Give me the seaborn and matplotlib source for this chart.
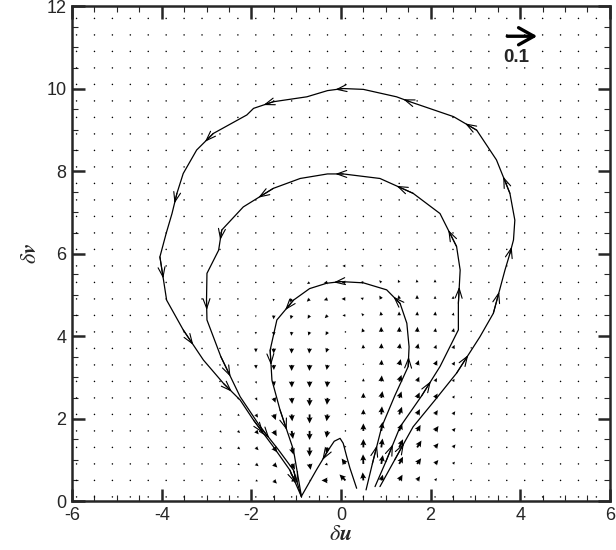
import numpy as np
import pandas as pd
import matplotlib
matplotlib.use("Agg")
import matplotlib.pyplot as plt
import seaborn as sns

# sampling grid of the vector field
grid_x = np.round(np.arange(-5.9, 5.8, 0.4), 1)
grid_y = np.round(np.arange(0.1, 11.8, 0.4), 1)

# region where the arrows are visible (outside it the vectors are ~0)
field_cols = [-2.7, -2.3, -1.9, -1.5, -1.1, -0.7, -0.3, 0.1, 0.5, 0.9, 1.3, 1.7, 2.1, 2.5, 2.9]
field_rows = [0.1, 0.5, 0.9, 1.3, 1.7, 2.1, 2.5, 2.9, 3.3, 3.7, 4.1, 4.5, 4.9, 5.3, 5.7]

# speed of each arrow, one row per field_rows entry
speed = [
    [0.003, 0.003, 0.003, 0.003, 0.003, 0.003, 0.003, 0.005, 0.005, 0.003, 0.003, 0.003, 0.003, 0.003, 0.003],
    [0.005, 0.007, 0.008, 0.015, 0.010, 0.006, 0.020, 0.028, 0.027, 0.020, 0.022, 0.017, 0.010, 0.007, 0.005],
    [0.007, 0.008, 0.012, 0.017, 0.022, 0.020, 0.010, 0.022, 0.032, 0.030, 0.027, 0.023, 0.017, 0.010, 0.006],
    [0.008, 0.010, 0.013, 0.020, 0.025, 0.030, 0.020, 0.008, 0.028, 0.030, 0.030, 0.027, 0.018, 0.013, 0.007],
    [0.008, 0.010, 0.015, 0.020, 0.027, 0.030, 0.023, 0.005, 0.025, 0.030, 0.027, 0.023, 0.020, 0.013, 0.008],
    [0.007, 0.008, 0.013, 0.020, 0.023, 0.030, 0.023, 0.005, 0.017, 0.027, 0.027, 0.020, 0.017, 0.013, 0.008],
    [0.005, 0.007, 0.010, 0.017, 0.020, 0.027, 0.023, 0.004, 0.017, 0.023, 0.023, 0.020, 0.017, 0.010, 0.007],
    [0.005, 0.006, 0.008, 0.015, 0.020, 0.020, 0.020, 0.004, 0.010, 0.020, 0.023, 0.017, 0.013, 0.010, 0.006],
    [0.004, 0.005, 0.013, 0.017, 0.020, 0.020, 0.017, 0.004, 0.006, 0.017, 0.020, 0.017, 0.017, 0.013, 0.006],
    [0.003, 0.005, 0.013, 0.017, 0.017, 0.017, 0.015, 0.005, 0.013, 0.017, 0.017, 0.017, 0.013, 0.013, 0.006],
    [0.003, 0.004, 0.008, 0.013, 0.013, 0.013, 0.013, 0.005, 0.013, 0.017, 0.017, 0.017, 0.013, 0.013, 0.006],
    [0.003, 0.004, 0.006, 0.013, 0.013, 0.013, 0.013, 0.010, 0.010, 0.013, 0.013, 0.013, 0.013, 0.010, 0.005],
    [0.002, 0.003, 0.005, 0.008, 0.013, 0.013, 0.013, 0.013, 0.010, 0.013, 0.013, 0.013, 0.010, 0.010, 0.005],
    [0.002, 0.003, 0.004, 0.005, 0.007, 0.010, 0.013, 0.013, 0.010, 0.010, 0.010, 0.010, 0.010, 0.006, 0.004],
    [0.002, 0.002, 0.002, 0.002, 0.004, 0.006, 0.008, 0.010, 0.008, 0.007, 0.006, 0.005, 0.004, 0.003, 0.002],
]

# direction of each arrow in degrees (0 = right, 90 = up)
direction = [
    [0, 0, 0, 0, 0, 0, 0, 150, 90, 45, 45, 45, 45, 45, 45],
    [0, 0, 340, 315, 345, 350, 180, 135, 95, 75, 60, 55, 50, 45, 45],
    [330, 330, 320, 315, 300, 280, 200, 125, 92, 80, 62, 55, 50, 50, 45],
    [320, 320, 315, 305, 285, 270, 255, 120, 90, 82, 65, 58, 52, 50, 45],
    [315, 315, 310, 300, 280, 270, 260, 180, 90, 82, 68, 60, 55, 50, 50],
    [315, 315, 305, 290, 275, 270, 262, 200, 90, 85, 70, 62, 58, 55, 50],
    [310, 305, 300, 290, 275, 270, 265, 200, 90, 80, 70, 65, 60, 55, 55],
    [300, 300, 290, 280, 272, 270, 265, 220, 90, 85, 70, 65, 60, 60, 55],
    [290, 280, 275, 272, 270, 268, 260, 230, 95, 85, 75, 70, 65, 60, 60],
    [280, 275, 272, 270, 268, 265, 250, 220, 95, 88, 80, 75, 70, 65, 60],
    [275, 275, 272, 270, 265, 250, 240, 200, 110, 92, 88, 85, 80, 75, 70],
    [275, 275, 270, 268, 255, 240, 225, 180, 130, 100, 92, 88, 85, 75, 75],
    [270, 270, 265, 262, 240, 225, 200, 180, 160, 120, 100, 92, 90, 85, 80],
    [260, 260, 250, 245, 225, 210, 190, 180, 175, 135, 115, 100, 92, 90, 85],
    [240, 240, 240, 240, 220, 200, 185, 180, 175, 150, 125, 110, 100, 95, 90],
]

# streamlines, ordered along the flow
inner_x = [0.56, 0.70, 0.91, 1.20, 1.50, 1.52, 1.47, 1.32, 1.02, 0.50, 0.00, -0.32, -0.70, -1.06, -1.43, -1.58, -1.54, -1.36, -1.06, -0.88]
inner_y = [0.27, 0.90, 1.80, 2.55, 3.26, 3.74, 4.31, 4.79, 5.12, 5.29, 5.32, 5.28, 5.15, 4.87, 4.39, 3.66, 2.93, 2.21, 1.24, 0.10]

middle_x = [0.76, 1.00, 1.32, 1.80, 2.21, 2.62, 2.62, 2.66, 2.58, 2.21, 1.61, 0.87, 0.05, -0.30, -0.91, -1.51, -2.18,
            -2.66, -2.73, -2.99, -3.00, -2.99, -2.68, -2.25, -1.80, -1.40, -1.06, -0.88]
middle_y = [0.35, 0.95, 1.80, 2.55, 3.26, 4.15, 4.79, 5.60, 6.17, 6.97, 7.46, 7.82, 7.93, 7.93, 7.82, 7.58, 7.13,
            6.57, 6.08, 5.52, 4.87, 4.39, 3.50, 2.53, 1.80, 1.25, 0.75, 0.10]

outer_x = [0.87, 1.20, 1.61, 2.10, 2.58, 3.10, 3.40, 3.66, 3.77, 3.85, 3.88, 3.77, 3.47, 3.03, 2.51, 1.54, 1.24, 0.50,
           0.05, -0.30, -0.76, -1.51, -1.95, -2.10, -2.85, -3.22, -3.52, -3.66, -3.77, -3.90, -4.04, -3.89, -3.52,
           -3.07, -2.62, -2.25, -1.95, -1.51, -1.14, -0.88]
outer_y = [0.35, 1.00, 1.80, 2.45, 3.10, 3.98, 4.55, 5.60, 6.00, 6.33, 6.81, 7.46, 8.27, 8.99, 9.32, 9.68, 9.80, 9.98,
           10.00, 9.95, 9.80, 9.68, 9.52, 9.36, 8.91, 8.51, 7.94, 7.46, 6.97, 6.49, 5.92, 4.87, 4.15,
           3.42, 2.85, 2.45, 1.96, 1.32, 0.75, 0.10]

spike_x = [0.35, 0.20, 0.13, 0.05, -0.02, -0.15, -0.28, -0.55, -0.88]
spike_y = [0.31, 0.80, 1.07, 1.40, 1.52, 1.45, 1.24, 0.75, 0.12]

# where the open arrowheads sit (segment index along each line)
inner_heads = [1, 4, 7, 10, 13, 15, 17]
middle_heads = [1, 3, 6, 8, 10, 12, 15, 17, 20, 22, 24, 26]
outer_heads = [1, 4, 6, 8, 11, 13, 15, 18, 21, 24, 27, 30, 32, 34, 36, 38]
spike_heads = [6]

key_value = 0.1
arrow_scale = 0.1 / 0.3  # speed per inch of arrow

sns.set_style("ticks")
plt.rcParams["font.family"] = ["Liberation Sans", "DejaVu Sans"]
plt.rcParams["mathtext.fontset"] = "stix"
plt.rcParams["axes.unicode_minus"] = False

fig = plt.figure(figsize=(6.16, 5.5), dpi=100)
ax = fig.add_axes([0.117, 0.089, 0.873, 0.9])

# full field: zero everywhere except the readable region
U = np.zeros((len(grid_y), len(grid_x)))
V = np.zeros((len(grid_y), len(grid_x)))
sp = np.array(speed)
ang = np.deg2rad(np.array(direction))
ci = [int(np.argmin(np.abs(grid_x - c))) for c in field_cols]
ri = [int(np.argmin(np.abs(grid_y - r))) for r in field_rows]
U[np.ix_(ri, ci)] = sp * np.cos(ang)
V[np.ix_(ri, ci)] = sp * np.sin(ang)
X, Y = np.meshgrid(grid_x, grid_y)

ax.quiver(X, Y, U, V, angles="uv", scale_units="inches", scale=arrow_scale,
          width=0.0034, headwidth=3.3, headlength=3.4, headaxislength=3.0,
          minlength=0.9, minshaft=1, color="black", pivot="tail", zorder=2)

lines = [(inner_x, inner_y, inner_heads), (middle_x, middle_y, middle_heads),
         (outer_x, outer_y, outer_heads), (spike_x, spike_y, spike_heads)]
for lx, ly, heads in lines:
    df = pd.DataFrame({"x": lx, "y": ly})
    sns.lineplot(data=df, x="x", y="y", sort=False, estimator=None, color="black", lw=0.9, ax=ax, zorder=3)
    for i in heads:
        mx = (lx[i] + lx[i + 1]) / 2
        my = (ly[i] + ly[i + 1]) / 2
        ax.annotate("", xy=(mx, my), xytext=(lx[i], ly[i]),
                    arrowprops=dict(arrowstyle="->, head_length=0.7, head_width=0.25",
                                    lw=0.8, color="black", shrinkA=0, shrinkB=0, mutation_scale=10),
                    zorder=4)

# reference arrow
key_pts = key_value / arrow_scale * 72
ax.annotate("", xy=(0.865, 0.939), xycoords="axes fraction",
            xytext=(-key_pts, 0), textcoords="offset points",
            arrowprops=dict(arrowstyle="->, head_length=0.5, head_width=0.28", lw=2.4,
                            color="black", shrinkA=0, shrinkB=0, mutation_scale=22))
ax.text(0.826, 0.896, "0.1", transform=ax.transAxes, ha="center", va="center",
        fontsize=13.5, fontweight="bold")

ax.set_xlim(-6, 6)
ax.set_ylim(0, 12)
ax.set_xticks(np.arange(-6, 7, 2))
ax.set_yticks(np.arange(0, 13, 2))
ax.set_xticks(np.arange(-6, 6.01, 0.5), minor=True)
ax.set_yticks(np.arange(0, 12.01, 0.5), minor=True)
ax.tick_params(which="major", direction="in", length=9, width=1.8, labelsize=13,
               top=True, right=True, pad=4)
ax.tick_params(which="minor", direction="in", length=4.5, width=0.8, top=True, right=True)
for s in ax.spines.values():
    s.set_linewidth(1.8)
ax.set_xlabel(r"$\delta\mathbfit{u}$", fontsize=16, labelpad=0)
ax.set_ylabel(r"$\delta\mathbfit{v}$", fontsize=16, labelpad=4)

plt.savefig("out.png", dpi=100)
